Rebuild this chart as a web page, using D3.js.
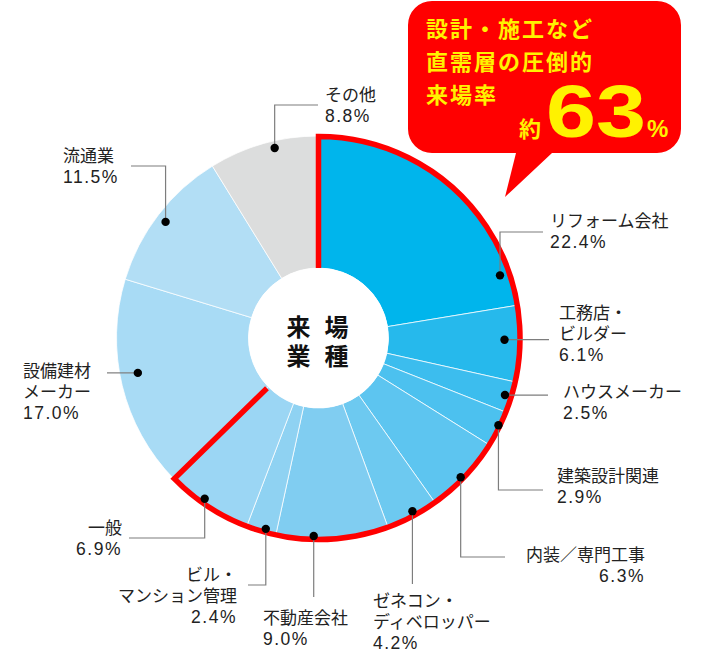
<!DOCTYPE html>
<html lang="ja">
<head>
<meta charset="utf-8">
<title>来場業種</title>
<script src="https://cdn.jsdelivr.net/npm/d3@7"></script>
<style>
  * { margin: 0; padding: 0; }
  body { background: #fff; }
  text { font-family: "Liberation Sans", "Noto Sans CJK JP", sans-serif; }
</style>
</head>
<body>
<div id="chart"></div>
<script>
// データ
var categories = ["リフォーム会社", "工務店・\nビルダー", "ハウスメーカー", "建築設計関連", "内装／専門工事",
  "ゼネコン・\nディベロッパー", "不動産会社", "ビル・\nマンション管理", "一般", "設備建材\nメーカー", "流通業", "その他"];
var shares = [22.4, 6.1, 2.5, 2.9, 6.3, 4.2, 9.0, 2.4, 6.9, 17.0, 11.5, 8.8];
var directDemand = [true, true, true, true, true, true, true, true, true, false, false, false];
var calloutLines = ["設計・施工など", "直需層の圧倒的", "来場率"];
var calloutValue = 63;
var centerTitle = ["来場", "業種"];

// 配色
var sliceColors = ["#00b5ec", "#26b9ec", "#3cbdee", "#4cc1ef", "#5dc5f0", "#6dc9f0",
  "#80cdf1", "#8fd2f2", "#9bd6f4", "#a8dbf5", "#b2def5", "#dcdddd"];

var width = 702, height = 652;
var cx = 318.5, cy = 338;
var outerR = 202, innerR = 70;

// ラベルの配置（スライス内の位置 t, 半径 r, 引出線, テキスト位置）
var labelLayout = [
  { t: 0.88, r: 192, ly: 232, lx: 543, tx: 550, ty: 221, anchor: "start" },
  { t: 0.45, r: 186, ly: null, lx: 549, tx: 559, ty: 313, anchor: "start" },
  { t: 0.49, r: 195, ly: null, lx: 548, tx: 563, ty: 392, anchor: "start" },
  { t: 0.41, r: 200, ly: 490, lx: 543, tx: 557, ty: 476, anchor: "start" },
  { t: 0.545, r: 199, ly: 557, lx: 505, tx: 645, ty: 555, anchor: "end" },
  { t: 0.45, r: 197, ly: 584, lx: null, tx: 373, ty: 601, anchor: "start" },
  { t: 0.665, r: 198, ly: 597, lx: null, tx: 263, ty: 618, anchor: "start" },
  { t: 0.37, r: 198, ly: 585, lx: 248, tx: 237, ty: 575, anchor: "end" },
  { t: 0.58, r: 197, ly: 538, lx: 129, tx: 122, ty: 528, anchor: "end" },
  { t: 0.545, r: 184, ly: null, lx: 107, tx: 23, ty: 371, anchor: "start" },
  { t: 0.49, r: 192, ly: 166, lx: 131, tx: 63, ty: 156, anchor: "start" },
  { t: 0.59, r: 195, ly: 105, lx: 318, tx: 325, ty: 95, anchor: "start" }
];

var svg = d3.select("#chart").append("svg")
  .attr("width", width)
  .attr("height", height);

// 吹き出し
function drawCallout() {
  var x0 = 408, x1 = 681, y0 = 1, y1 = 153, rr = 24;
  var p = d3.path();
  p.moveTo(x0 + rr, y0);
  p.lineTo(x1 - rr, y0);
  p.arcTo(x1, y0, x1, y0 + rr, rr);
  p.lineTo(x1, y1 - rr);
  p.arcTo(x1, y1, x1 - rr, y1, rr);
  p.lineTo(552, y1);
  p.lineTo(505, 197);
  p.lineTo(516, y1);
  p.lineTo(x0 + rr, y1);
  p.arcTo(x0, y1, x0, y1 - rr, rr);
  p.lineTo(x0, y0 + rr);
  p.arcTo(x0, y0, x0 + rr, y0, rr);
  p.closePath();

  var g = svg.append("g");
  g.append("path").attr("d", p.toString()).attr("fill", "#ff0000");

  g.selectAll("text.line")
    .data(calloutLines)
    .enter().append("text")
    .attr("class", "line")
    .attr("x", 426)
    .attr("y", function(d, i) { return 29 + i * 33; })
    .attr("dy", "0.36em")
    .attr("fill", "#fff200")
    .attr("font-size", "22px")
    .attr("font-weight", "bold")
    .attr("letter-spacing", "2px")
    .style("font-family", "'Noto Sans CJK JP', sans-serif")
    .text(function(d) { return d; });

  g.append("text")
    .attr("x", 519).attr("y", 137)
    .attr("fill", "#fff200")
    .attr("font-size", "22px")
    .attr("font-weight", "bold")
    .style("font-family", "'Noto Sans CJK JP', sans-serif")
    .text("約");

  g.append("text")
    .attr("x", 546).attr("y", 137)
    .attr("fill", "#fff200")
    .attr("font-size", "74px")
    .attr("font-weight", "bold")
    .attr("textLength", 100)
    .attr("lengthAdjust", "spacingAndGlyphs")
    .text(calloutValue);

  g.append("text")
    .attr("x", 647).attr("y", 137)
    .attr("fill", "#fff200")
    .attr("font-size", "24px")
    .attr("font-weight", "bold")
    .text("%");
}

function drawDonut() {
  var pie = d3.pie().sort(null).value(function(d) { return d; });
  var arcs = pie(shares);
  var arc = d3.arc().innerRadius(innerR).outerRadius(outerR);

  var g = svg.append("g").attr("transform", "translate(" + cx + "," + cy + ")");

  g.selectAll("path.slice")
    .data(arcs)
    .enter().append("path")
    .attr("class", "slice")
    .attr("d", arc)
    .attr("fill", function(d, i) { return sliceColors[i]; })
    .attr("stroke", "rgba(255,255,255,0.75)")
    .attr("stroke-width", 1);

  // 直需層の赤枠
  var directArcs = arcs.filter(function(d, i) { return directDemand[i]; });
  var a0 = d3.min(directArcs, function(d) { return d.startAngle; });
  var a1 = d3.max(directArcs, function(d) { return d.endAngle; });
  var rr = outerR - 0.5;
  var p = d3.path();
  p.moveTo(innerR * Math.sin(a0), -innerR * Math.cos(a0));
  p.lineTo(rr * Math.sin(a0), -rr * Math.cos(a0));
  p.arc(0, 0, rr, a0 - Math.PI / 2, a1 - Math.PI / 2, false);
  p.lineTo((innerR + 2) * Math.sin(a1), -(innerR + 2) * Math.cos(a1));
  g.append("path")
    .attr("d", p.toString())
    .attr("fill", "none")
    .attr("stroke", "#ff0000")
    .attr("stroke-width", 5.5)
    .attr("stroke-linejoin", "miter");

  // 中央の円
  g.append("circle").attr("r", innerR).attr("fill", "#fff");
  var ct = g.append("text")
    .attr("text-anchor", "middle")
    .attr("font-size", "24px")
    .attr("font-weight", "bold")
    .attr("letter-spacing", "14px")
    .attr("fill", "#111")
    .style("font-family", "'Noto Sans CJK JP', sans-serif");
  ct.selectAll("tspan")
    .data(centerTitle)
    .enter().append("tspan")
    .attr("x", 6)
    .attr("y", function(d, i) { return -11 + i * 29.5; })
    .attr("dy", "0.36em")
    .text(function(d) { return d; });

  // 引出線とラベル
  var fmt = d3.format(".1f");
  arcs.forEach(function(d, i) {
    var L = labelLayout[i];
    var ang = d.startAngle + L.t * (d.endAngle - d.startAngle);
    var px = cx + L.r * Math.sin(ang);
    var py = cy - L.r * Math.cos(ang);
    var pts = [[px, py]];
    if (L.ly === null) {
      pts.push([L.lx, py]);
    } else {
      pts.push([px, L.ly]);
      if (L.lx !== null) pts.push([L.lx, L.ly]);
    }
    svg.append("path")
      .attr("d", d3.line()(pts))
      .attr("fill", "none")
      .attr("stroke", "#7d7d7d")
      .attr("stroke-width", 1.2);
    svg.append("circle")
      .attr("cx", px).attr("cy", py).attr("r", 4.2)
      .attr("fill", "#000");

    var names = categories[i].split("\n");
    var txt = svg.append("text")
      .attr("text-anchor", L.anchor)
      .attr("font-size", "17px")
      .attr("fill", "#222");
    names.forEach(function(s, k) {
      txt.append("tspan")
        .attr("x", L.tx)
        .attr("y", L.ty + k * 21)
        .attr("dy", "0.36em")
        .text(s);
    });
    // 数値行（やや幅広の字形に合わせて字間を空ける）
    txt.append("tspan")
      .attr("x", L.tx)
      .attr("y", L.ty + names.length * 21)
      .attr("dy", "0.36em")
      .attr("font-size", "17.5px")
      .attr("letter-spacing", "1.5px")
      .text(fmt(shares[i]) + "%");
  });
}

drawDonut();
drawCallout();
</script>
</body>
</html>
